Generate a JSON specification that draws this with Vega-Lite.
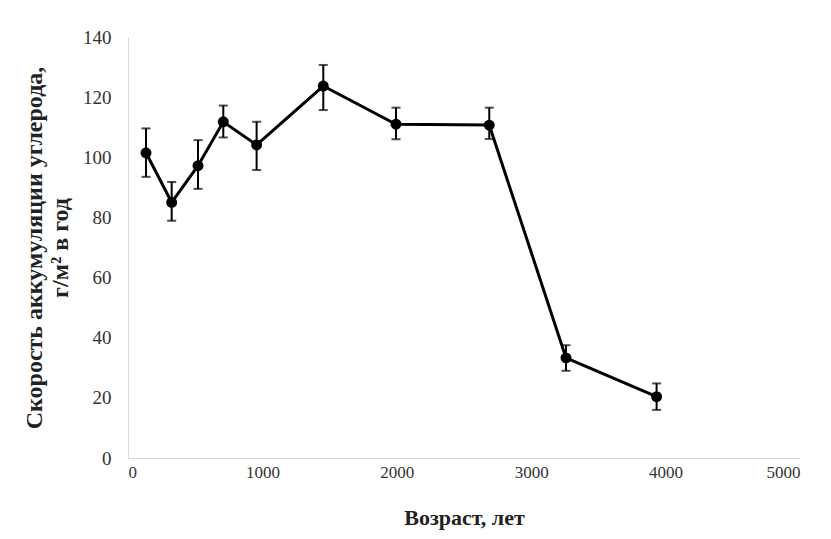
{
  "$schema": "https://vega.github.io/schema/vega-lite/v6.json",
  "width": 672,
  "height": 421,
  "autosize": "none",
  "padding": {"left": 128, "top": 37, "right": 31, "bottom": 81},
  "background": "white",
  "config": {
    "view": {"stroke": null},
    "font": "Liberation Serif"
  },
  "data": {
    "values": [
      {"age": 134, "rate": 101.5, "lo": 93.5, "hi": 109.6},
      {"age": 325, "rate": 85.0, "lo": 78.9, "hi": 91.8},
      {"age": 521, "rate": 97.2, "lo": 89.5, "hi": 105.7},
      {"age": 709, "rate": 111.8, "lo": 106.6, "hi": 117.2},
      {"age": 957, "rate": 104.1, "lo": 95.8, "hi": 111.8},
      {"age": 1453, "rate": 123.7, "lo": 115.7, "hi": 130.7},
      {"age": 1994, "rate": 111.0, "lo": 106.0, "hi": 116.5},
      {"age": 2688, "rate": 110.7, "lo": 106.1, "hi": 116.5},
      {"age": 3259, "rate": 33.3, "lo": 29.0, "hi": 37.5},
      {"age": 3933, "rate": 20.4, "lo": 16.0, "hi": 24.8}
    ]
  },
  "layer": [
    {
      "mark": {"type": "rule", "color": "black", "strokeWidth": 2},
      "encoding": {
        "x": {"field": "age", "type": "quantitative"},
        "y": {"field": "lo", "type": "quantitative"},
        "y2": {"field": "hi"}
      }
    },
    {
      "mark": {"type": "tick", "color": "black", "orient": "horizontal", "size": 9, "thickness": 2},
      "encoding": {
        "x": {"field": "age", "type": "quantitative"},
        "y": {"field": "lo", "type": "quantitative"}
      }
    },
    {
      "mark": {"type": "tick", "color": "black", "orient": "horizontal", "size": 9, "thickness": 2},
      "encoding": {
        "x": {"field": "age", "type": "quantitative"},
        "y": {"field": "hi", "type": "quantitative"}
      }
    },
    {
      "mark": {"type": "line", "color": "black", "strokeWidth": 3},
      "encoding": {
        "x": {"field": "age", "type": "quantitative"},
        "y": {"field": "rate", "type": "quantitative"}
      }
    },
    {
      "mark": {"type": "point", "filled": true, "color": "black", "opacity": 1, "size": 120},
      "encoding": {
        "x": {
          "field": "age",
          "type": "quantitative",
          "scale": {"domain": [0, 5000], "nice": false, "zero": true},
          "axis": {
            "values": [0, 1000, 2000, 3000, 4000, 5000],
            "format": "d",
            "title": "Возраст, лет",
            "titleFont": "Liberation Serif",
            "titleFontSize": 22,
            "titleFontWeight": "bold",
            "titleColor": "#222",
            "titlePadding": 27,
            "labelFont": "Liberation Serif",
            "labelFontSize": 17,
            "labelColor": "#333",
            "labelPadding": 6,
            "ticks": false,
            "grid": false,
            "domainColor": "#d9d9d9",
            "domainWidth": 1
          }
        },
        "y": {
          "field": "rate",
          "type": "quantitative",
          "scale": {"domain": [0, 140], "nice": false},
          "axis": {
            "values": [0, 20, 40, 60, 80, 100, 120, 140],
            "format": "d",
            "title": ["Скорость  аккумуляции углерода,", "г/м² в год"],
            "titleFont": "Liberation Serif",
            "titleFontSize": 24,
            "titleFontWeight": "bold",
            "titleColor": "#222",
            "titleLineHeight": 26,
            "titlePadding": 10,
            "labelFont": "Liberation Serif",
            "labelFontSize": 19,
            "labelColor": "#333",
            "labelPadding": 17,
            "ticks": false,
            "grid": false,
            "domainColor": "#d9d9d9",
            "domainWidth": 1
          }
        }
      }
    }
  ]
}
